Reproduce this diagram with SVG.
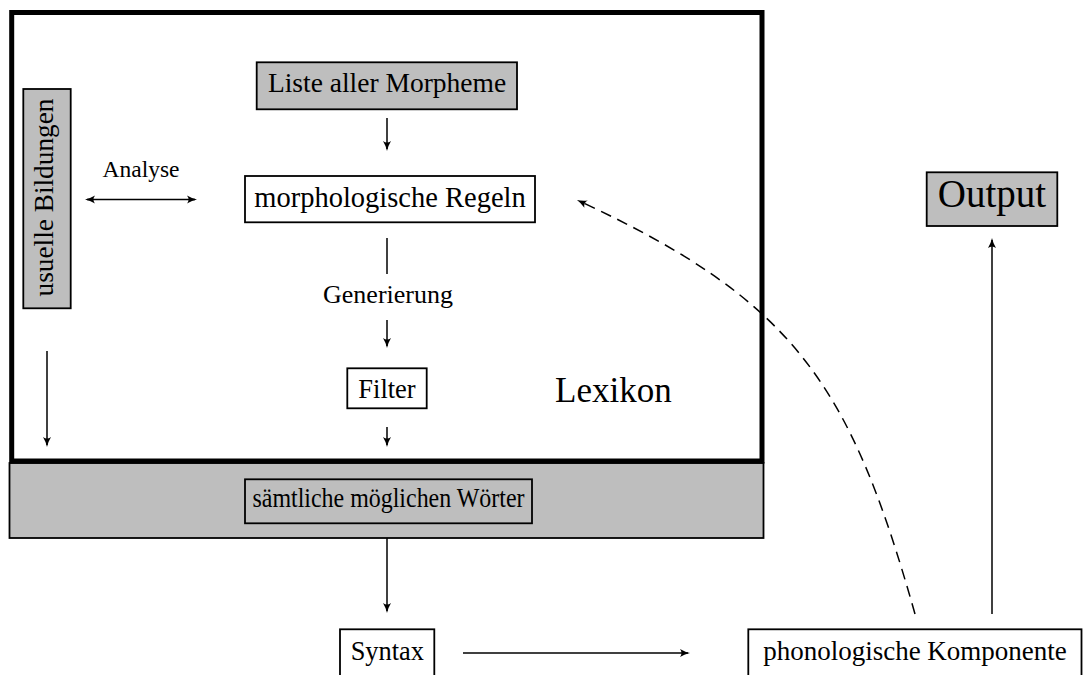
<svg xmlns="http://www.w3.org/2000/svg" width="1083" height="675" viewBox="0 0 1083 675">
<style>
text{font-family:"Liberation Serif","Times New Roman",serif;fill:#000}
.box{stroke:#000;stroke-width:1.8}
.grey{fill:#bebebe}
.white{fill:#fff}
.c{fill:none;stroke:#000;stroke-width:1.5}
.dash{stroke-dasharray:11 7}
</style>
<defs>
<marker id="ah" viewBox="-10 -5 13 10" refX="0" refY="0" markerWidth="13" markerHeight="10" markerUnits="userSpaceOnUse" orient="auto-start-reverse">
<path d="M-8,-4 Q-3,-1 2,0 Q-3,1 -8,4 Q-5,0 -8,-4Z" fill="#000" stroke="none"/>
</marker>
</defs>
<rect width="1083" height="675" fill="#fff"/>
<g id="woerter">
<rect class="box grey" x="9.5" y="463" width="754" height="75" stroke-width="1.5"/>
<rect class="box grey" x="245" y="479.3" width="287" height="44"/>
<text x="388.5" y="507" font-size="27.5" text-anchor="middle" textLength="272" lengthAdjust="spacingAndGlyphs">sämtliche möglichen Wörter</text>
</g>
<g id="lexikon">
<rect x="11.7" y="12.5" width="750.3" height="448.5" fill="none" stroke="#000" stroke-width="5"/>
<text x="555" y="402" font-size="35">Lexikon</text>
</g>
<g id="morpheme">
<rect class="box grey" x="256.7" y="62.3" width="260.3" height="47"/>
<text x="387" y="92" font-size="27.5" text-anchor="middle">Liste aller Morpheme</text>
</g>
<g id="regeln">
<rect class="box white" x="245" y="176" width="290" height="46.3"/>
<text x="390" y="207" font-size="28.5" text-anchor="middle">morphologische Regeln</text>
</g>
<g id="usuelle">
<rect class="box grey" x="23.3" y="89" width="47.4" height="219.3"/>
<text transform="translate(53.3,197.5) rotate(-90)" font-size="27.3" text-anchor="middle">usuelle Bildungen</text>
</g>
<g id="filter">
<rect class="box white" x="347.3" y="368.3" width="79.4" height="40"/>
<text x="387" y="398" font-size="26.5" text-anchor="middle">Filter</text>
</g>
<g id="syntax">
<rect class="box white" x="340" y="629.3" width="94.3" height="47"/>
<text x="387.3" y="660" font-size="26.4" text-anchor="middle">Syntax</text>
</g>
<g id="phonologie">
<rect class="box white" x="748.3" y="629.3" width="333.2" height="47"/>
<text x="915" y="660" font-size="27" text-anchor="middle">phonologische Komponente</text>
</g>
<g id="output">
<rect class="box grey" x="926.7" y="172.3" width="130.6" height="53.7"/>
<text x="992" y="207" font-size="39" text-anchor="middle">Output</text>
</g>
<g id="connectors">
<path class="c" d="M387,118 V149" marker-end="url(#ah)"/>
<path class="c" d="M387,238 V274"/>
<text x="388" y="303" font-size="26" text-anchor="middle">Generierung</text>
<path class="c" d="M387,320 V346" marker-end="url(#ah)"/>
<path class="c" d="M387,427 V445" marker-end="url(#ah)"/>
<path class="c" d="M47,351 V445" marker-end="url(#ah)"/>
<path class="c" d="M87,199.5 H195" marker-start="url(#ah)" marker-end="url(#ah)"/>
<text x="141" y="177" font-size="23.5" text-anchor="middle">Analyse</text>
<path class="c" d="M387,538 V611" marker-end="url(#ah)"/>
<path class="c" d="M463,653 H688" marker-end="url(#ah)"/>
<path class="c" d="M992,614 V240" marker-end="url(#ah)"/>
<path class="c dash" d="M915,614 C850,384 795,301 578.8,200.8" marker-end="url(#ah)"/>
</g>
</svg>
